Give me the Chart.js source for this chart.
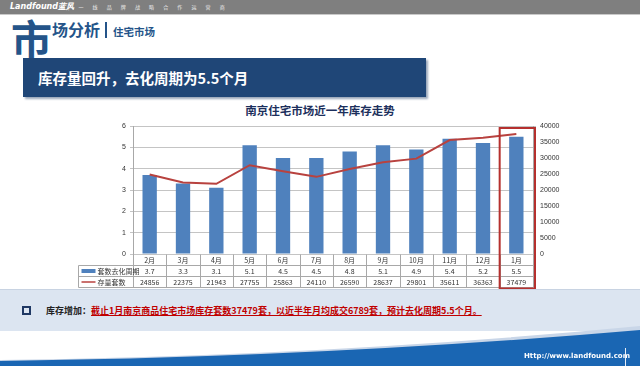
<!DOCTYPE html>
<html>
<head>
<meta charset="utf-8">
<script src="https://cdn.jsdelivr.net/npm/chart.js@4.4.0/dist/chart.umd.min.js"></script>
<style>
	body {
		margin: 0;
		width: 640px;
		height: 366px;
		overflow: hidden;
		background: #fff;
		position: relative;
		font-family: "Noto Sans CJK SC", "Noto Sans", sans-serif;
	}
	.topbar {
		position: absolute; left: 0; top: 0; width: 640px; height: 14px;
		background: #7f7f7f; border-bottom: 1px solid #c9c9c9;
	}
	.topbar .logo {
		position: absolute; left: 10px; top: 0; font-size: 8px; line-height: 14px;
		color: #fff; font-weight: bold; font-style: italic; font-family: "DejaVu Sans", sans-serif;
	}
	.topbar .slogan {
		position: absolute; left: 68px; top: 0; font-size: 5px; line-height: 14px;
		color: #eee; letter-spacing: 4px;
	}
	.big {
		position: absolute; left: 11px; top: 12px; font-size: 41px; font-weight: bold; color: #245489;
		line-height: 50px;
	}
	.sub {
		position: absolute; left: 52px; top: 18px; font-size: 16px; font-weight: bold; color: #245489;
		line-height: 22px;
	}
	.sub .bar { display: inline-block; width: 2px; height: 16px; background: #245489; margin: 0 6px 0 5px; vertical-align: -2px; }
	.sub .small { font-size: 10.5px; }
	.banner {
		position: absolute; left: 23px; top: 58px; width: 403px; height: 39px;
		background: #1f4677; box-shadow: 2px 2px 2px #9aa8bb;
		color: #fff; font-size: 14.5px; font-weight: bold; line-height: 39px; text-indent: 15px;
	}
	.ctitle {
		position: absolute; left: 0; width: 640px; top: 102px; text-align: center;
		font-size: 11.5px; font-weight: bold; color: #1c2f5c; line-height: 16px;
	}
	#wrap { position: absolute; left: 70px; top: 100px; width: 510px; height: 190px; }
	.note {
		position: absolute; left: 0; top: 289px; width: 640px; height: 41px;
		background: #dce5f1; border-top: 1px solid #c8d3e2;
		font-size: 9px; font-weight: bold; line-height: 41px;
	}
	.note .sq {
		position: absolute; left: 22px; top: 16px; width: 5px; height: 5px; border: 2px solid #1f3864;
	}
	.note .lead { position: absolute; left: 46px; top: 0; color: #222; }
	.note .lead span { color: #c00000; text-decoration: underline; }
	svg.foot { position: absolute; left: 0; top: 320px; }
	.url {
		position: absolute; left: 524px; top: 351px; font-size: 7px; color: #fff; font-weight: bold;
		font-family: "DejaVu Sans", sans-serif; line-height: 10px;
	}
	.vline { position: absolute; left: 625px; top: 348px; width: 1px; height: 18px; background: #e8eef7; }
</style>
</head>
<body>
<div class="topbar">
	<div class="logo">Landfound蓝风</div>
	<div class="slogan">| 一 线 品 牌 战 略 合 作 运 营 商</div>
</div>
<div class="big">市</div>
<div class="sub">场分析<span class="bar"></span><span class="small">住宅市场</span></div>
<div class="banner">库存量回升，去化周期为5.5个月</div>
<div class="ctitle">南京住宅市场近一年库存走势</div>
<div id="wrap"><canvas id="chart" width="510" height="190"></canvas></div>
<div class="note">
	<div class="sq"></div>
	<div class="lead">库存增加：<span>截止1月南京商品住宅市场库存套数37479套，以近半年月均成交6789套，预计去化周期5.5个月。</span></div>
</div>
<svg class="foot" width="640" height="46" viewBox="0 0 640 46">
	<path d="M0 40 Q 330 36 640 6 L640 12 Q 330 40 0 42 Z" fill="#c9d6e8"/>
	<path d="M0 41 Q 330 37 640 10 L640 46 L0 46 Z" fill="#1a66b3"/>
</svg>
<div class="url">Http://www.landfound.com</div>
<div class="vline"></div>

<script>
const months = ["2月", "3月", "4月", "5月", "6月", "7月", "8月", "9月", "10月", "11月", "12月", "1月"];
// 套数去化周期 (months)
const cycle = [3.7, 3.3, 3.1, 5.1, 4.5, 4.5, 4.8, 5.1, 4.9, 5.4, 5.2, 5.5];
// 存量套数 (units)
const stock = [24856, 22375, 21943, 27755, 25863, 24110, 26590, 28637, 29801, 35611, 36363, 37479];
const cycleLabel = "套数去化周期";
const stockLabel = "存量套数";

const barColor = "#4f81bd";
const lineColor = "#b8423f";
const gridColor = "#c4c4c4";
const tableFont = '7px "Noto Sans CJK SC", sans-serif';

// draws the data table under the plot and the red box round the last month
const tablePlugin = {
	id: "dataTable",
	afterDraw(chart) {
		const ctx = chart.ctx;
		const area = chart.chartArea;
		const xs = chart.scales.x;
		const colW = (area.right - area.left) / months.length;
		const rowH = 11;
		const top = Math.round(area.bottom) + 0.5;
		const legendLeft = 8.5;
		const left = Math.round(area.left) + 0.5;
		const right = Math.round(area.right) + 0.5;

		ctx.save();
		ctx.strokeStyle = "#a8a8a8";
		ctx.lineWidth = 1;
		ctx.beginPath();
		ctx.moveTo(legendLeft, top + rowH);
		ctx.lineTo(right, top + rowH);
		ctx.moveTo(legendLeft, top + 2 * rowH);
		ctx.lineTo(right, top + 2 * rowH);
		ctx.moveTo(legendLeft, top + 3 * rowH);
		ctx.lineTo(right, top + 3 * rowH);
		ctx.moveTo(legendLeft, top + rowH);
		ctx.lineTo(legendLeft, top + 3 * rowH);
		for (let i = 0; i <= months.length; i++) {
			const x = Math.round(area.left + i * colW) + 0.5;
			ctx.moveTo(x, top);
			ctx.lineTo(x, top + 3 * rowH);
		}
		ctx.stroke();

		ctx.font = tableFont;
		ctx.fillStyle = "#333";
		ctx.textAlign = "center";
		ctx.textBaseline = "middle";
		months.forEach((m, i) => {
			const cx = xs.getPixelForValue(i);
			ctx.fillText(m, cx, top + rowH / 2);
			ctx.fillText(cycle[i].toFixed(1), cx, top + rowH * 1.5);
			ctx.fillText(String(stock[i]), cx, top + rowH * 2.5);
		});

		// legend keys
		ctx.textAlign = "left";
		ctx.fillStyle = barColor;
		ctx.fillRect(legendLeft + 3, top + rowH * 1.5 - 2, 14, 4);
		ctx.fillStyle = "#333";
		ctx.fillText(cycleLabel, legendLeft + 19, top + rowH * 1.5);
		ctx.strokeStyle = lineColor;
		ctx.lineWidth = 1.5;
		ctx.beginPath();
		ctx.moveTo(legendLeft + 3, top + rowH * 2.5);
		ctx.lineTo(legendLeft + 17, top + rowH * 2.5);
		ctx.stroke();
		ctx.fillText(stockLabel, legendLeft + 19, top + rowH * 2.5);

		// highlight box on the last month
		const last = months.length - 1;
		const bx = xs.getPixelForValue(last) - colW / 2;
		ctx.strokeStyle = "#b5302e";
		ctx.lineWidth = 2;
		ctx.strokeRect(bx, area.top + 2, colW + 2, top + 3 * rowH - area.top - 1);
		ctx.restore();
	}
};

new Chart(document.getElementById("chart"), {
	data: {
		labels: months,
		datasets: [
			{
				type: "line",
				label: stockLabel,
				data: stock,
				yAxisID: "y1",
				borderColor: lineColor,
				borderWidth: 2,
				pointRadius: 0,
				tension: 0,
				order: 0
			},
			{
				type: "bar",
				label: cycleLabel,
				data: cycle,
				yAxisID: "y",
				backgroundColor: barColor,
				barPercentage: 0.43,
				categoryPercentage: 1,
				order: 1
			}
		]
	},
	options: {
		responsive: false,
		animation: false,
		layout: { padding: { top: 26, bottom: 36, left: 0, right: 0 } },
		plugins: {
			legend: { display: false },
			tooltip: { enabled: false }
		},
		scales: {
			x: { display: false },
			y: {
				position: "left",
				min: 0,
				max: 6,
				ticks: { stepSize: 1, color: "#333", font: { size: 7 }, padding: 4 },
				grid: { color: gridColor, tickLength: 3 },
				border: { color: "#a8a8a8" },
				afterFit(scale) { scale.width = 63; }
			},
			y1: {
				position: "right",
				min: 0,
				max: 40000,
				ticks: {
					stepSize: 5000,
					color: "#333",
					font: { size: 7 },
					padding: 4,
					callback: v => String(v)
				},
				grid: { drawOnChartArea: false, tickLength: 3, color: gridColor },
				border: { color: "#a8a8a8" },
				afterFit(scale) { scale.width = 47; }
			}
		}
	},
	plugins: [tablePlugin]
});
</script>
</body>
</html>
